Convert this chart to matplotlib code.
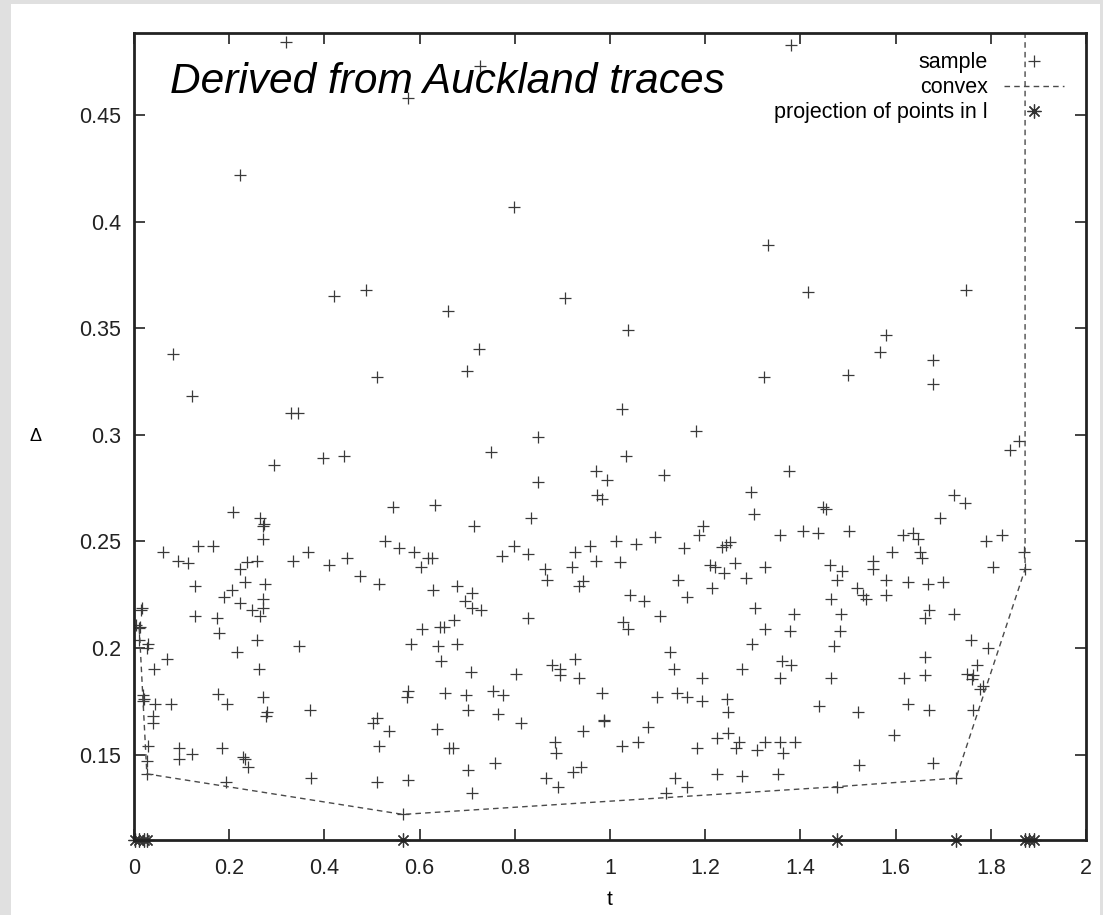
import matplotlib
matplotlib.use("Agg")
import matplotlib.pyplot as plt
from matplotlib.patches import Rectangle

plt.rcParams['font.family'] = ['Liberation Sans', 'DejaVu Sans']

# sample points (t, delta)
sample_t = [
    0.32, 1.38, 0.576, 0.727, 0.223, 0.798, 0.082, 0.122, 0.42, 0.487,
    0.51, 0.66, 0.725, 0.70, 0.905, 1.332, 1.416, 1.748, 1.038, 1.58,
    1.567, 1.679, 1.679, 1.323, 1.50, 0.33, 0.345, 1.025, 1.181, 0.849,
    0.750, 1.034, 0.971, 0.994, 1.113, 0.848, 0.972, 0.983, 0.632, 0.834,
    0.714, 1.195, 1.187, 1.095, 0.798, 1.013, 1.055, 0.958, 1.155, 1.235,
    1.244, 0.926, 0.773, 0.828, 0.625, 0.971, 1.021, 1.210, 1.221, 1.239,
    0.864, 0.920, 0.868, 0.943, 0.935, 1.143, 0.628, 0.678, 0.710, 0.695,
    0.710, 0.729, 1.042, 1.071, 1.162, 1.214, 1.105, 0.672, 0.643, 0.651,
    0.828, 1.027, 1.038, 1.126, 1.134, 1.193, 0.638, 0.679, 0.645, 0.708,
    0.803, 0.878, 0.895, 0.895, 0.927, 0.935,
    # left part
    0.294, 0.397, 0.441, 0.544, 0.208, 0.265, 0.273, 0.272, 0.272, 0.527,
    0.135, 0.167, 0.061, 0.365, 0.557, 0.588, 0.093, 0.113, 0.237, 0.258,
    0.334, 0.447, 0.410, 0.223, 0.618, 0.603, 0.475, 0.515, 0.233, 0.275,
    0.128, 0.206, 0.189, 0.223, 0.271, 0.271, 0.248, 0.265, 0.017, 0.015,
    0.128, 0.174, 0.179, 0.013, 0.011, 0.258, 0.605, 0.582, 0.347, 0.029,
    0.011, 0.027, 0.216, 0.069, 0.042, 0.263, 0.005,
    # right part
    1.859, 1.840, 1.376, 1.296, 1.302, 1.723, 1.746, 1.693, 1.448, 1.454,
    1.357, 1.406, 1.436, 1.502, 1.616, 1.636, 1.647, 1.790, 1.824, 1.870,
    1.872, 1.593, 1.651, 1.656, 1.252, 1.263, 1.325, 1.286, 1.462, 1.487,
    1.477, 1.553, 1.553, 1.580, 1.626, 1.668, 1.699, 1.804, 1.519, 1.532,
    1.538, 1.580, 1.464, 1.305, 1.387, 1.485, 1.670, 1.662, 1.723, 1.326,
    1.378, 1.483, 1.298, 1.470, 1.758, 1.794, 1.662, 1.362, 1.380, 1.277,
    1.771, 1.750, 1.763, 1.662, 1.357, 1.464, 1.618,
    # lower band
    0.019, 0.021, 0.019, 0.044, 0.078, 0.177, 0.196, 0.272, 0.280, 0.277,
    0.040, 0.040, 0.370, 0.576, 0.574, 0.653, 0.510, 0.502, 0.536, 0.637,
    0.030, 0.095, 0.095, 0.122, 0.184, 0.229, 0.233, 0.240, 0.515, 0.027,
    0.027, 0.193, 0.372, 0.510, 0.576, 0.565, 0.662,
    0.697, 0.754, 0.775, 0.702, 0.764, 0.813, 0.983, 0.987, 0.987, 0.943,
    1.099, 1.141, 1.162, 1.193, 1.246, 1.248, 1.080, 1.059, 1.025, 0.670,
    0.884, 0.887, 1.183, 1.224, 1.248, 1.271, 1.265, 1.308, 1.326, 0.702,
    0.758, 0.710, 0.866, 0.890, 0.922, 0.939, 1.137, 1.162, 1.118, 1.224,
    1.277,
    1.760, 1.777, 1.784, 1.763, 1.439, 1.521, 1.626, 1.670, 1.597, 1.357,
    1.363, 1.389, 1.353, 1.523, 1.679, 1.477, 1.727,
]
sample_d = [
    0.484, 0.483, 0.458, 0.473, 0.422, 0.407, 0.338, 0.318, 0.365, 0.368,
    0.327, 0.358, 0.340, 0.330, 0.364, 0.389, 0.367, 0.368, 0.349, 0.347,
    0.339, 0.335, 0.324, 0.327, 0.328, 0.310, 0.310, 0.312, 0.302, 0.299,
    0.292, 0.290, 0.283, 0.279, 0.281, 0.278, 0.272, 0.270, 0.267, 0.261,
    0.257, 0.257, 0.253, 0.252, 0.248, 0.250, 0.249, 0.248, 0.247, 0.2475,
    0.2485, 0.245, 0.243, 0.244, 0.242, 0.241, 0.2405, 0.239, 0.238, 0.235,
    0.237, 0.238, 0.232, 0.2315, 0.229, 0.232, 0.227, 0.229, 0.226, 0.222,
    0.219, 0.218, 0.225, 0.222, 0.224, 0.228, 0.215, 0.213, 0.210, 0.210,
    0.214, 0.212, 0.209, 0.198, 0.190, 0.186, 0.201, 0.202, 0.194, 0.189,
    0.188, 0.192, 0.190, 0.1875, 0.195, 0.186,
    # left part
    0.286, 0.289, 0.290, 0.266, 0.264, 0.261, 0.258, 0.257, 0.251, 0.250,
    0.248, 0.248, 0.245, 0.245, 0.247, 0.245, 0.241, 0.240, 0.2405, 0.241,
    0.241, 0.242, 0.239, 0.237, 0.242, 0.238, 0.234, 0.230, 0.231, 0.230,
    0.229, 0.227, 0.224, 0.221, 0.223, 0.219, 0.218, 0.215, 0.219, 0.218,
    0.215, 0.214, 0.207, 0.210, 0.2095, 0.204, 0.209, 0.202, 0.201, 0.202,
    0.204, 0.200, 0.198, 0.195, 0.190, 0.190, 0.211,
    # right part
    0.297, 0.293, 0.283, 0.273, 0.263, 0.272, 0.268, 0.261, 0.266, 0.265,
    0.253, 0.255, 0.254, 0.255, 0.253, 0.254, 0.251, 0.250, 0.253, 0.245,
    0.237, 0.245, 0.245, 0.242, 0.2495, 0.240, 0.238, 0.233, 0.239, 0.236,
    0.232, 0.241, 0.237, 0.232, 0.231, 0.230, 0.231, 0.238, 0.228, 0.225,
    0.223, 0.225, 0.223, 0.219, 0.216, 0.216, 0.218, 0.214, 0.216, 0.209,
    0.208, 0.208, 0.202, 0.201, 0.204, 0.200, 0.196, 0.194, 0.192, 0.190,
    0.192, 0.188, 0.1875, 0.1875, 0.186, 0.186, 0.186,
    # lower band
    0.178, 0.176, 0.175, 0.174, 0.174, 0.1786, 0.174, 0.177, 0.170, 0.168,
    0.168, 0.165, 0.171, 0.180, 0.177, 0.179, 0.167, 0.165, 0.161, 0.162,
    0.154, 0.153, 0.148, 0.1505, 0.153, 0.149, 0.148, 0.144, 0.154, 0.147,
    0.141, 0.137, 0.139, 0.137, 0.138, 0.122, 0.153,
    0.178, 0.180, 0.178, 0.171, 0.169, 0.165, 0.179, 0.166, 0.1665, 0.161,
    0.177, 0.179, 0.177, 0.175, 0.176, 0.170, 0.163, 0.156, 0.154, 0.153,
    0.156, 0.151, 0.153, 0.158, 0.160, 0.156, 0.153, 0.152, 0.156, 0.143,
    0.146, 0.132, 0.139, 0.135, 0.142, 0.144, 0.139, 0.135, 0.132, 0.141,
    0.140,
    0.1855, 0.181, 0.182, 0.171, 0.173, 0.170, 0.174, 0.171, 0.159, 0.156,
    0.151, 0.156, 0.141, 0.145, 0.146, 0.135, 0.139,
]

# lower convex hull
hull_t = [0.011, 0.027, 0.565, 1.477, 1.727, 1.872, 1.872]
hull_d = [0.2095, 0.141, 0.122, 0.135, 0.139, 0.237, 0.50]

# projections of the hull points onto the axis
proj_t = [0.003, 0.011, 0.020, 0.027, 0.565, 1.477, 1.727, 1.872, 1.881, 1.890]
proj_d = [0.11] * len(proj_t)

W, H = 1103, 915
fig = plt.figure(figsize=(W / 100, H / 100), dpi=100)
fig.patch.set_facecolor('#e0e0e0')
fig.patches.append(Rectangle((11 / W, 0), (1100 - 11) / W, (H - 4) / H,
                             transform=fig.transFigure, facecolor='white',
                             edgecolor='none', zorder=-1))

ax = fig.add_axes([134 / W, (H - 840) / H, (1086 - 134) / W, (840 - 33) / H])
ax.set_facecolor('white')

ax.plot(sample_t, sample_d, linestyle='none', marker='+', markersize=8,
        markeredgewidth=0.9, color='#3a3a3a', label='sample')
ax.plot(hull_t, hull_d, linestyle=(0, (4, 3)), linewidth=1.0,
        color='#4a4a4a', label='convex')
ax.plot(proj_t, proj_d, linestyle='none', marker=(8, 2, 0), markersize=10,
        markeredgewidth=0.9, color='#333333', clip_on=False,
        label='projection of points in l')

ax.set_xlim(0, 2)
ax.set_ylim(0.11, 0.4884)
ax.set_xticks([0, 0.2, 0.4, 0.6, 0.8, 1, 1.2, 1.4, 1.6, 1.8, 2])
ax.set_xticklabels(['0', '0.2', '0.4', '0.6', '0.8', '1', '1.2', '1.4', '1.6', '1.8', '2'])
ax.set_yticks([0.15, 0.2, 0.25, 0.3, 0.35, 0.4, 0.45])
ax.set_yticklabels(['0.15', '0.2', '0.25', '0.3', '0.35', '0.4', '0.45'])
ax.tick_params(direction='in', length=8, width=1.2, top=True, right=True,
               labelsize=15.5, colors='#222222')
ax.tick_params(axis='x', pad=13)
ax.tick_params(axis='y', pad=9)
for s in ax.spines.values():
    s.set_linewidth(2)
    s.set_color('#222222')

ax.set_xlabel('t', fontsize=15, labelpad=8)
ax.set_ylabel('Δ', fontsize=13, rotation=0, labelpad=32, va='center')

ax.text(0.0378, 0.9257, 'Derived from Auckland traces', transform=ax.transAxes,
        fontsize=30.5, style='italic', va='baseline', ha='left', color='black')

ax.legend(loc='upper right', bbox_to_anchor=(0.977, 0.976), frameon=False,
          markerfirst=False, fontsize=15.5, handlelength=2.8, handletextpad=0.75,
          labelspacing=0.18, borderpad=0, borderaxespad=0)

fig.savefig('out.png', dpi=100)
